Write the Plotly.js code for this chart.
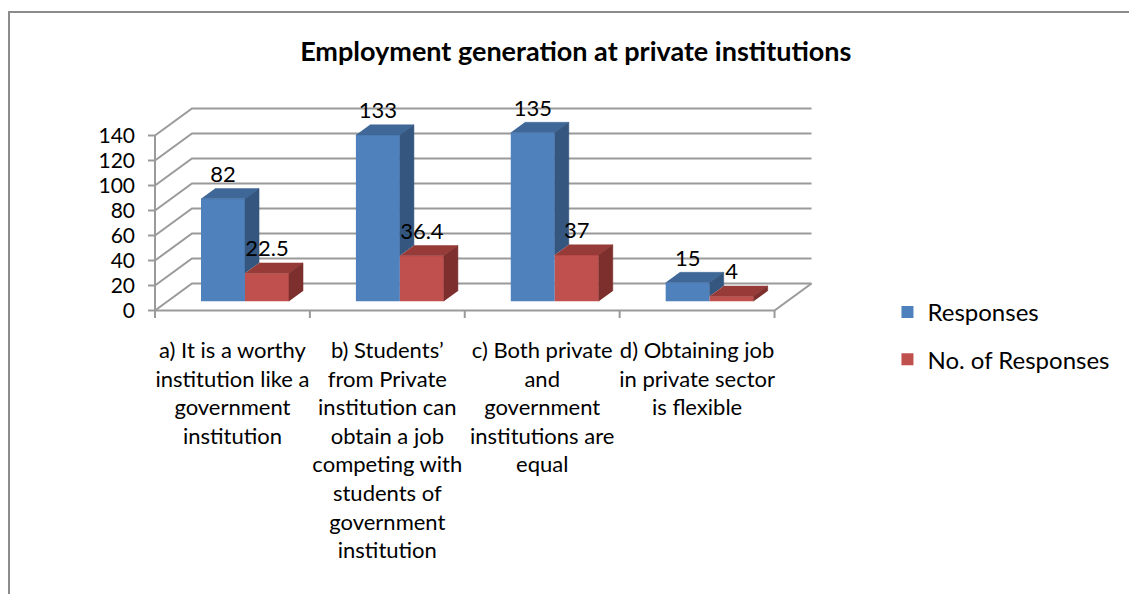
<!DOCTYPE html>
<html>
<head>
<meta charset="utf-8">
<script src="https://cdn.plot.ly/plotly-3.0.1.min.js"></script>
<style>
  html, body { margin: 0; padding: 0; background: #ffffff; overflow: hidden; }
  #chart { position: absolute; left: 0; top: 0; width: 1129px; height: 594px; }
  #frame { position: absolute; left: 8px; top: 11px; width: 1200px; height: 700px;
           border-left: 2px solid #8c8c8c; border-top: 2px solid #8c8c8c; pointer-events: none; }
</style>
</head>
<body>
<div id="chart"></div>
<div id="frame"></div>
<script>
// ---------------- data ----------------
const chartTitle = 'Employment generation at private institutions';
const categories = [
  'a) It is a worthy<br>institution like a<br>government<br>institution',
  'b) Students’<br>from Private<br>institution can<br>obtain a job<br>competing with<br>students of<br>government<br>institution',
  'c) Both private<br>and<br>government<br>institutions are<br>equal',
  'd) Obtaining job<br>in private sector<br>is flexible'
];
const seriesNames = ['Responses', 'No. of Responses'];
const responses = [82, 133, 135, 15];
const noOfResponses = [22.5, 36.4, 37, 4];
const yTickValues = [0, 20, 40, 60, 80, 100, 120, 140];

// ---------------- style ----------------
const frontColors = ['#4F81BD', '#C0504D'];
const topColors   = ['#3F6898', '#973B38'];
const sideColors  = ['#34567F', '#7C2F2C'];
const gridColor = '#9a9a9a';
const FONT = 'Lato, "Open Sans", sans-serif';

// pseudo-3D geometry (category units on x, value units on y)
const DX = 0.2387, DY = 21.6;     // full depth of the floor
const f0 = 0.34, f1 = 0.72;       // depth range occupied by the bars
const barWidth = 0.284;
const xMin = -0.058, xMax = 4.3, yMin = -10, yMax = 172.4;
const tickLenY = 6, tickLenX = 0.045;

const series = [responses, noOfResponses];
const nCat = categories.length, nSer = series.length;
const shiftX = f0 * DX, shiftY = f0 * DY;
const ddx = (f1 - f0) * DX, ddy = (f1 - f0) * DY;
const groupW = barWidth * nSer;
function leftEdge(i, k) { return i + (1 - groupW) / 2 + shiftX + k * barWidth; }

const traces = [];
// front faces: real bars
series.forEach((vals, k) => {
  traces.push({
    type: 'bar', name: seriesNames[k],
    x: vals.map((v, i) => leftEdge(i, k) + barWidth / 2),
    y: vals, base: shiftY, width: barWidth,
    marker: { color: frontColors[k], line: { width: 0 } },
    hoverinfo: 'skip', legendgroup: 'g' + k
  });
});
// top and side faces
series.forEach((vals, k) => {
  const tx = [], ty = [], sx = [], sy = [];
  vals.forEach((v, i) => {
    const l = leftEdge(i, k), r = l + barWidth;
    tx.push(l, r, r + ddx, l + ddx, null);
    ty.push(v + shiftY, v + shiftY, v + shiftY + ddy, v + shiftY + ddy, null);
    const hmin = k < nSer - 1 ? Math.min(series[k + 1][i], v) : 0;
    sx.push(r, r, r + ddx, r + ddx, null);
    sy.push(shiftY + hmin, shiftY + v, shiftY + v + ddy, shiftY + hmin + ddy, null);
  });
  traces.push({ type: 'scatter', mode: 'lines', x: tx, y: ty, fill: 'toself',
    fillcolor: topColors[k], line: { width: 0.5, color: topColors[k] },
    showlegend: false, hoverinfo: 'skip' });
  traces.push({ type: 'scatter', mode: 'lines', x: sx, y: sy, fill: 'toself',
    fillcolor: sideColors[k], line: { width: 0.5, color: sideColors[k] },
    showlegend: false, hoverinfo: 'skip' });
});
// value labels
series.forEach((vals, k) => {
  traces.push({
    type: 'scatter', mode: 'text',
    x: vals.map((v, i) => leftEdge(i, k) + barWidth / 2),
    y: vals.map(v => v + shiftY + ddy + 1),
    text: vals.map(v => String(v)), textposition: 'top center',
    textfont: { family: FONT, size: 22, color: '#000' },
    cliponaxis: false, showlegend: false, hoverinfo: 'skip'
  });
});

// walls, floor, axis line and ticks (behind the bars)
const shapes = [];
const ln = { color: gridColor, width: 2 };
yTickValues.forEach(v => {
  shapes.push({ type: 'path', xref: 'x', yref: 'y', layer: 'below', line: ln,
    path: `M 0,${v} L ${DX},${v + DY} L ${nCat + DX},${v + DY}` });
  shapes.push({ type: 'line', xref: 'x', yref: 'y', layer: 'below', line: ln,
    x0: -tickLenX, x1: 0, y0: v, y1: v });
});
shapes.push({ type: 'path', xref: 'x', yref: 'y', layer: 'below', line: ln,
  path: `M 0,0 L ${nCat},0 L ${nCat + DX},${DY}` });
shapes.push({ type: 'line', xref: 'x', yref: 'y', layer: 'below', line: ln,
  x0: 0, x1: 0, y0: 0, y1: yTickValues[yTickValues.length - 1] });
for (let i = 0; i <= nCat; i++) {
  shapes.push({ type: 'line', xref: 'x', yref: 'y', layer: 'below', line: ln,
    x0: i, x1: i, y0: 0, y1: -tickLenY });
}

const W = 1129, H = 594, marginL = 146, marginT = 95, marginB = 271;
const pxPerCat = 155;
const marginR = W - marginL - (xMax - xMin) * pxPerCat;

const layout = {
  width: W, height: H,
  margin: { l: marginL, r: marginR, t: marginT, b: marginB, pad: 0 },
  paper_bgcolor: '#ffffff', plot_bgcolor: 'rgba(0,0,0,0)',
  font: { family: FONT, color: '#000' },
  title: { text: chartTitle, x: 0.51, xref: 'container', xanchor: 'center',
    y: 1 - 52 / H, yref: 'container', yanchor: 'middle',
    font: { family: FONT, size: 27, weight: 'bold', color: '#000' } },
  barmode: 'overlay',
  showlegend: true,
  legend: { x: (888 - marginL) / ((xMax - xMin) * pxPerCat), xanchor: 'left',
    y: (H - marginB - 290) / (H - marginT - marginB), yanchor: 'top',
    font: { family: FONT, size: 24, color: '#000' }, tracegroupgap: 13,
    bgcolor: 'rgba(0,0,0,0)', borderwidth: 0 },
  xaxis: { range: [xMin, xMax], showgrid: false, zeroline: false, showline: false,
    tickmode: 'array', tickvals: categories.map((c, i) => i + 0.5), ticktext: categories,
    ticks: '', tickfont: { family: FONT, size: 22, color: '#000' },
    ticklabelstandoff: 12, fixedrange: true },
  yaxis: { range: [yMin, yMax], showgrid: false, zeroline: false, showline: false,
    tickmode: 'array', tickvals: yTickValues, ticks: '', ticklabelstandoff: 10,
    tickfont: { family: FONT, size: 21, color: '#000' }, fixedrange: true },
  shapes: shapes
};

Plotly.newPlot('chart', traces, layout, { displayModeBar: false, staticPlot: true });
</script>
</body>
</html>
